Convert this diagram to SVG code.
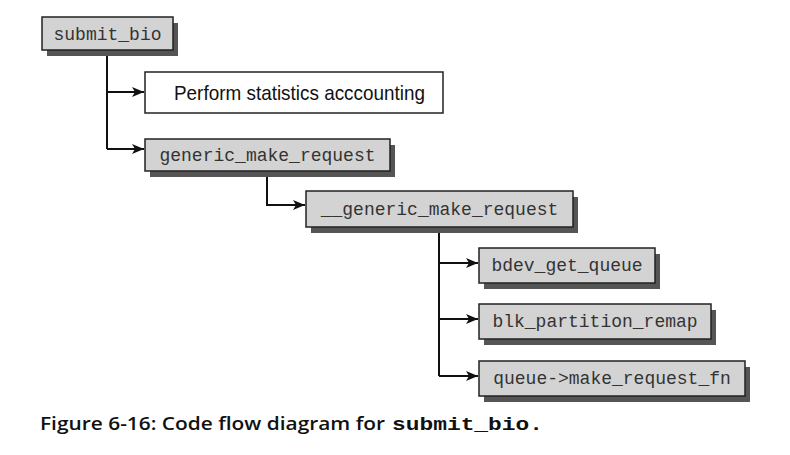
<svg xmlns="http://www.w3.org/2000/svg" width="790" height="455" viewBox="0 0 790 455">
<style>
.shadow{fill:#555555}
.box{fill:#d3d3d3;stroke:#222222;stroke-width:1.5}
.wbox{fill:#ffffff;stroke:#222222;stroke-width:1.5}
.code{font-family:"Liberation Mono","Courier New",monospace;font-size:18px;fill:#333333}
.sans{font-family:"Liberation Sans",Arial,sans-serif;font-size:21px;fill:#111111}
.conn{fill:none;stroke:#111111;stroke-width:2}
</style>
<defs>
<marker id="arr" viewBox="0 0 12 10" refX="12" refY="5" markerWidth="12" markerHeight="10" markerUnits="userSpaceOnUse" orient="auto">
<path d="M0,0 L12,5 L0,10 L3,5 Z" fill="#111111"/>
</marker>
</defs>
<rect width="790" height="455" fill="#ffffff"/>
<g id="connectors">
<path class="conn" d="M107,50 V149"/>
<path class="conn" d="M107,92 H144" marker-end="url(#arr)"/>
<path class="conn" d="M107,149 H144" marker-end="url(#arr)"/>
<path class="conn" d="M267,171 V205 H305" marker-end="url(#arr)"/>
<path class="conn" d="M439,227 V376"/>
<path class="conn" d="M439,263 H478" marker-end="url(#arr)"/>
<path class="conn" d="M439,319 H478" marker-end="url(#arr)"/>
<path class="conn" d="M439,376 H478" marker-end="url(#arr)"/>
</g>
<g id="submit_bio">
<rect class="shadow" x="47" y="23" width="131" height="33"/>
<rect class="box" x="42" y="17" width="131" height="33"/>
<text class="code" x="107.5" y="40" text-anchor="middle">submit_bio</text>
</g>
<g id="stats">
<rect class="wbox" x="145" y="72" width="298" height="41"/>
<text class="sans" x="174" y="100" textLength="251" lengthAdjust="spacingAndGlyphs">Perform statistics acccounting</text>
</g>
<g id="generic_make_request">
<rect class="shadow" x="150" y="145" width="245" height="32"/>
<rect class="box" x="145" y="139" width="245" height="32"/>
<text class="code" x="267.5" y="161" text-anchor="middle">generic_make_request</text>
</g>
<g id="__generic_make_request">
<rect class="shadow" x="311" y="197" width="267" height="36"/>
<rect class="box" x="306" y="191" width="267" height="36"/>
<text class="code" x="439.5" y="215" text-anchor="middle">__generic_make_request</text>
</g>
<g id="bdev_get_queue">
<rect class="shadow" x="484" y="254" width="176" height="35"/>
<rect class="box" x="479" y="248" width="176" height="35"/>
<text class="code" x="567" y="271" text-anchor="middle">bdev_get_queue</text>
</g>
<g id="blk_partition_remap">
<rect class="shadow" x="484" y="310" width="232" height="35"/>
<rect class="box" x="479" y="304" width="232" height="35"/>
<text class="code" x="595" y="327" text-anchor="middle">blk_partition_remap</text>
</g>
<g id="queue_make_request_fn">
<rect class="shadow" x="484" y="367" width="266" height="35"/>
<rect class="box" x="479" y="361" width="266" height="35"/>
<text class="code" x="612" y="384" text-anchor="middle">queue-&gt;make_request_fn</text>
</g>
<g id="caption">
<text x="40" y="430" font-family="'Open Sans','Liberation Sans',sans-serif" font-weight="600" font-size="18" fill="#111111" textLength="345" lengthAdjust="spacingAndGlyphs">Figure 6-16: Code flow diagram for</text>
<text x="392" y="430" font-family="'Liberation Mono','Courier New',monospace" font-weight="bold" font-size="18" fill="#111111" textLength="151" lengthAdjust="spacingAndGlyphs">submit_bio.</text>
</g>
</svg>
